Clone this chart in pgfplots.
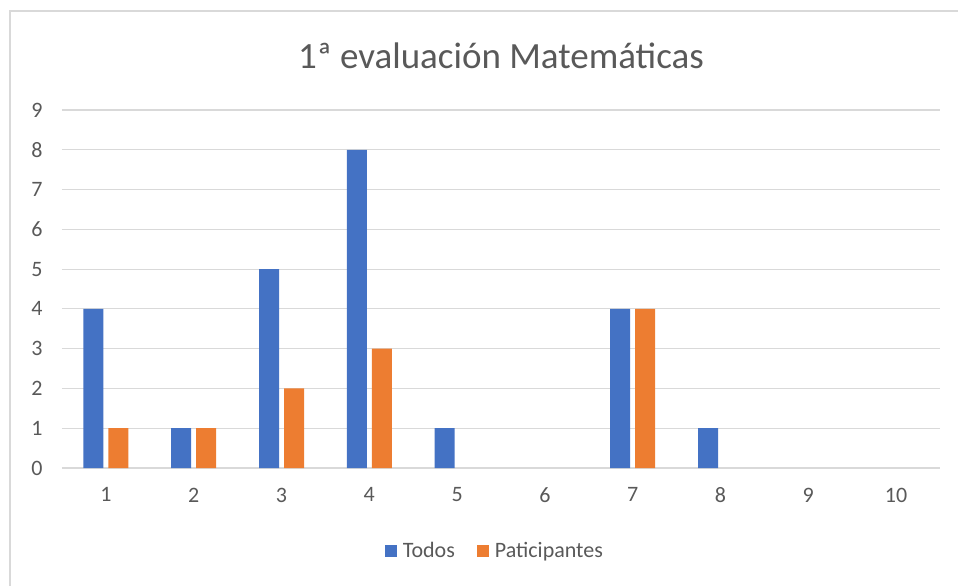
\documentclass[border=0pt]{standalone}
\usepackage{pgfplots}
\pgfplotsset{compat=1.18}
\usepackage{fontspec}
\setmainfont{Carlito}
\definecolor{xlblue}{HTML}{4472C4}
\definecolor{xlorange}{HTML}{ED7D31}
\definecolor{xlgrid}{HTML}{D9D9D9}
\definecolor{xltext}{HTML}{595959}
\begin{document}
\begin{tikzpicture}[x=1pt,y=1pt]
\useasboundingbox (-62,-118) rectangle (896,468);
\draw[xlgrid, line width=1.2pt] (-52,-140) rectangle (920,457);
\begin{axis}[
    at={(0,0)}, anchor=south west,
    scale only axis, width=878pt, height=358pt,
    ybar=5pt, bar width=20pt,
    xmin=0.5, xmax=10.5, ymin=0, ymax=9,
    xtick={1,...,10}, ytick={0,...,9},
    axis line style={draw=none},
    axis x line*=bottom,
    x axis line style={draw=xlgrid, line width=1.2pt},
    ymajorgrids, grid style={draw=xlgrid, line width=1.2pt},
    tick style={draw=none},
    ticklabel style={font=\fontsize{22}{24}\selectfont, text=xltext},
    /pgf/number format/assume math mode=true,
    xticklabel style={yshift=-12pt},
    yticklabel style={xshift=-16pt},
    title={1ª evaluación Matemáticas},
    title style={font=\fontsize{37}{40}\selectfont, text=xltext, at={(0.5,1)}, anchor=center, yshift=48pt},
    legend columns=2,
    legend style={at={(0.493,-0.232)}, anchor=center, draw=none, fill=none,
        font=\fontsize{22}{24}\selectfont, text=xltext,
        /tikz/every even column/.append style={column sep=20pt}},
    legend image code/.code={\fill[#1] (0pt,-6pt) rectangle (12pt,6pt); \path (16pt,0pt);},
]
\addplot[fill=xlblue, draw=none, restrict y to domain=0.5:100] coordinates {(1,4) (2,1) (3,5) (4,8) (5,1) (6,0) (7,4) (8,1) (9,0) (10,0)};
\addplot[fill=xlorange, draw=none, restrict y to domain=0.5:100] coordinates {(1,1) (2,1) (3,2) (4,3) (5,0) (6,0) (7,4) (8,0) (9,0) (10,0)};
\legend{Todos, Paticipantes}
\end{axis}
\end{tikzpicture}
\end{document}
